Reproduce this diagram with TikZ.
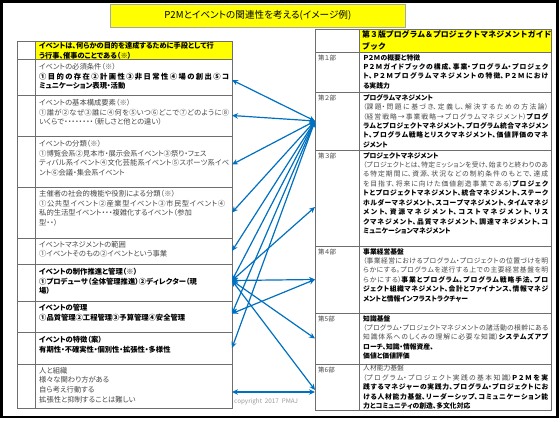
\documentclass[tikz,border=0pt]{standalone}
\usepackage{fontspec}
\setmainfont{Noto Sans CJK JP}[RawFeature=+palt]
\newfontfamily\jpfull{Noto Sans CJK JP}
\usetikzlibrary{arrows.meta}
\XeTeXlinebreaklocale "ja"
\XeTeXlinebreakskip=0pt plus 3pt
\tolerance=10000
\hbadness=10000
\setlength\parindent{0pt}
\definecolor{ylw}{RGB}{255,255,0}
\definecolor{arr}{RGB}{0,112,192}
\definecolor{txtg}{RGB}{70,70,70}
\definecolor{gridc}{RGB}{110,110,110}
\newcommand\bkt[1]{{\bfseries\color{black}#1}}
\begin{document}
\begin{tikzpicture}[x=1pt,y=-1pt,
  cell/.style={draw=gridc, line width=0.8pt, anchor=north west, inner sep=0pt, outer sep=0pt, rectangle},
  ltxt/.style={anchor=north west, align=justify, text width=190pt, inner sep=0pt, font=\fontsize{7.3}{9.6}\selectfont, text=txtg},
  rtxt/.style={anchor=north west, align=justify, text width=185pt, inner sep=0pt, font=\fontsize{6.8}{9.45}\selectfont, text=txtg},
  lbl/.style={anchor=north west, inner sep=0pt, font=\fontsize{6.5}{8}\selectfont, text=txtg},
  lnk/.style={draw=arr, line width=1.2pt, {Stealth[length=6pt,width=5.5pt]}-{Stealth[length=6pt,width=5.5pt]}}
]
\useasboundingbox (0,0) rectangle (560,421);
% outer frame
\draw[line width=2.5pt] (1.5,1.5) rectangle (557.5,417);
% title
\node[draw=gray!70, fill=ylw, line width=0.6pt, minimum width=295pt, minimum height=23pt, inner sep=0pt, anchor=north west,
  font=\fontsize{9.6}{11}\selectfont] (title) at (110,4) {P2Mとイベントの関連性を考える(イメージ例)};

% ---------- left table ----------
\fill[ylw] (35,41) rectangle (232,59);
\node[cell, minimum width=215pt, minimum height=18pt] (lh) at (17,41) {};
\node[cell, minimum width=215pt, minimum height=36pt] (r1) at (17,59) {};
\node[cell, minimum width=215pt, minimum height=41pt] (r2) at (17,95) {};
\node[cell, minimum width=215pt, minimum height=51pt] (r3) at (17,136) {};
\node[cell, minimum width=215pt, minimum height=51pt] (r4) at (17,187) {};
\node[cell, minimum width=215pt, minimum height=26pt] (r5) at (17,238) {};
\node[cell, minimum width=215pt, minimum height=37pt] (r6) at (17,264) {};
\node[cell, minimum width=215pt, minimum height=31pt] (r7) at (17,301) {};
\node[cell, minimum width=215pt, minimum height=32pt] (r8) at (17,332) {};
\node[cell, minimum width=215pt, minimum height=44pt] (r9) at (17,364) {};
\draw[gridc, line width=0.8pt] (35,41) -- (35,408);

\node[ltxt, font=\fontsize{7.2}{9.2}\selectfont\bfseries, text=black] (tl0) at (39,42.5)
  {イベントは、何らかの目的を達成するために手段として行\\う行事、催事のことである（※）};
\node[ltxt] (tl1) at (39,63)
  {イベントの必須条件（※）\\\bkt{①目的の存在②計画性③非日常性④場の創出⑤コ}\linebreak\bkt{ミュニケーション表現・活動}};
\node[ltxt] (tl2) at (39,99)
  {イベントの基本構成要素（※）\\①誰が②なぜ③誰に④何を⑤いつ⑥どこで⑦どのように⑧\linebreak いくらで・・・・・・・・（新しさと他との違い）};
\node[ltxt] (tl3) at (39,140)
  {イベントの分類（※）\\①博覧会系②見本市・展示会系イベント③祭り・フェス\\ティバル系イベント④文化芸能系イベント⑤スポーツ系イベ\linebreak ント⑥会議・集会系イベント};
\node[ltxt, text width=186pt] (tl4) at (39,190)
  {主催者の社会的機能や役割による分類（※）\\①公共型イベント②産業型イベント③市民型イベント④\linebreak 私的生活型イベント・・・複雑化するイベント（参加\\型・・）};
\node[ltxt] (tl5) at (39,241)
  {イベントマネジメントの範囲\\①イベントそのもの②イベントという事業};
\node[ltxt] (tl6) at (39,268)
  {\bkt{イベントの制作推進と管理（※）}\\\bkt{①プロデューサ（全体管理推進）②ディレクター（現}\\\bkt{場）}};
\node[ltxt] (tl7) at (39,304)
  {\bkt{イベントの管理}\\\bkt{①品質管理②工程管理③予算管理④安全管理}};
\node[ltxt] (tl8) at (39,336)
  {\bkt{イベントの特徴（案）}\\\bkt{有期性・不確実性・個別性・拡張性・多様性}};
\node[ltxt] (tl9) at (39,367)
  {人と組織\\様々な関わり方がある\\自ら考え行動する\\拡張性と抑制することは難しい};

% ---------- right table ----------
\fill[ylw] (359,29) rectangle (551,52);
\node[cell, minimum width=236pt, minimum height=23pt] (rh) at (315,29) {};
\node[cell, minimum width=236pt, minimum height=40pt] (p1) at (315,52) {};
\node[cell, minimum width=236pt, minimum height=58pt] (p2) at (315,92) {};
\node[cell, minimum width=236pt, minimum height=96pt] (p3) at (315,150) {};
\node[cell, minimum width=236pt, minimum height=67pt] (p4) at (315,246) {};
\node[cell, minimum width=236pt, minimum height=51pt] (p5) at (315,313) {};
\node[cell, minimum width=236pt, minimum height=46pt] (p6) at (315,364) {};
\draw[gridc, line width=0.8pt] (359,29) -- (359,410);

\node[anchor=north west, align=left, inner sep=0pt, font=\jpfull\fontsize{7.9}{11.5}\selectfont\bfseries, text=black] (tr0) at (362,30.5)
  {第３版プログラム＆プロジェクトマネジメントガイド\\ブック};

\node[lbl] (lb1) at (318,55) {第１部};
\node[lbl] (lb2) at (318,95) {第２部};
\node[lbl] (lb3) at (318,153) {第３部};
\node[lbl] (lb4) at (318,249) {第４部};
\node[lbl] (lb5) at (318,316) {第5部};
\node[lbl] (lb6) at (318,367) {第6部};

\node[rtxt] (tr1) at (363,54)
  {\bkt{Ｐ２Ｍの概要と特徴}\\\bkt{Ｐ２Ｍガイドブックの構成、事業・プログラム・プロジェク}\linebreak\bkt{ト、Ｐ２Ｍプログラムマネジメントの特徴、Ｐ２Ｍにおけ}\linebreak\bkt{る実践力}};
\node[rtxt] (tr2) at (363,94)
  {\bkt{プログラムマネジメント}\\（課題・問題に基づき、定義し、解決するための方法論）\linebreak（経営戦略→事業戦略→プログラムマネジメント）\bkt{プログ}\linebreak\bkt{ラムとプロジェクトマネジメント、プログラム統合マネジメン}\linebreak\bkt{ト、プログラム戦略とリスクマネジメント、価値評価のマネ}\linebreak\bkt{ジメント}};
\node[rtxt] (tr3) at (363,152)
  {\bkt{プロジェクトマネジメント}\\（プロジェクトとは、特定ミッションを受け、始まりと終わりのあ\linebreak る特定期間に、資源、状況などの制約条件のもとで、達成\linebreak を目指す、将来に向けた価値創造事業である）\bkt{プロジェク}\linebreak\bkt{トとプロジェクトマネジメント、統合マネジメント、ステーク}\linebreak\bkt{ホルダーマネジメント、スコープマネジメント、タイムマネジ}\linebreak\bkt{メント、資源マネジメント、コストマネジメント、リス}\linebreak\bkt{クマネジメント、品質マネジメント、調達マネジメント、コ}\linebreak\bkt{ミュニケーションマネジメント}};
\node[rtxt] (tr4) at (363,248)
  {\bkt{事業経営基盤}\\（事業経営におけるプログラム・プロジェクトの位置づけを明\linebreak らかにする。プログラムを遂行する上での主要経営基盤を明\linebreak らかにする）\bkt{事業とプログラム、プログラム戦略手法、プロ}\linebreak\bkt{ジェクト組織マネジメント、会計とファイナンス、情報マネジ}\linebreak\bkt{メントと情報インフラストラクチャー}};
\node[rtxt] (tr5) at (363,315)
  {\bkt{知識基盤}\\（プログラム・プロジェクトマネジメントの諸活動の根幹にある\linebreak 知識体系へのしくみの理解に必要な知識）\bkt{システムズアプ}\linebreak\bkt{ローチ、知識・情報資産、}\\\bkt{価値と価値評価}};
\node[rtxt] (tr6) at (363,365)
  {人材能力基盤\\（プログラム・プロジェクト実践の基本知識）\bkt{Ｐ２Ｍを実}\linebreak\bkt{践するマネジャーの実践力、プログラム・プロジェクトにお}\linebreak\bkt{ける人材能力基盤、リーダーシップ、コミュニケーション能}\linebreak\bkt{力とコミュニティの創造、多文化対応}};

% copyright
\node[anchor=west, inner sep=0pt, font=\fontsize{6.3}{7}\selectfont, text=gray!80] (copy) at (234,402) {copyright\ \ 2017\ \ PMAJ};

% ---------- connectors ----------
\draw[lnk] (p2.west) -- ([yshift=-3pt]r1.east);
\draw[lnk] (p2.west) -- (r2.east);
\draw[lnk] (p2.west) -- ([yshift=-3pt]r3.east);
\draw[lnk] (p2.west) -- (r4.east);
\draw[lnk] (p2.west) -- (r5.east);
\draw[lnk] (p2.west) -- ([yshift=2pt]r6.east);
\draw[lnk] (p2.west) -- ([yshift=3pt]r7.east);
\draw[lnk] (p2.west) -- (r8.east);
\draw[lnk] ([yshift=2pt]r6.east) -- ([yshift=-9pt]p3.west);
\draw[lnk] ([yshift=2pt]r6.east) -- (p4.west);
\draw[lnk] ([yshift=3pt]r7.east) -- (p4.west);
\draw[lnk] ([yshift=2pt]r6.east) -- (p5.west);
\draw[lnk] ([yshift=2pt]r6.east) -- ([yshift=-3pt]p6.west);
\draw[lnk] ([yshift=-6pt]r9.east) -- ([yshift=-5pt]p6.west);
\end{tikzpicture}
\end{document}
